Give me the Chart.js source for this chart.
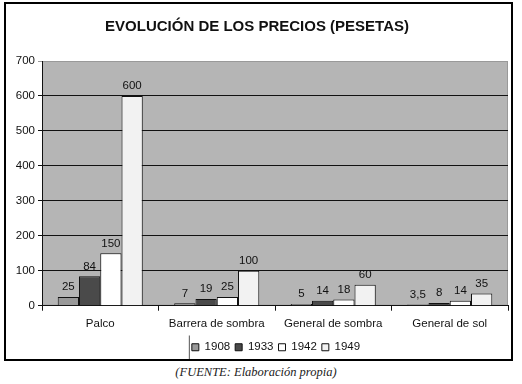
<!DOCTYPE html>
<html>
<head>
<meta charset="utf-8">
<script src="https://cdn.jsdelivr.net/npm/chart.js@4"></script>
<style>
  body { margin: 0; background: #fff; width: 522px; height: 384px; position: relative; overflow: hidden; }
  #box { position: absolute; left: 4px; top: 2px; width: 509px; height: 359px; border: 2px solid #000; box-sizing: border-box; }
  #box canvas { position: absolute; left: 0; top: 0; }
  #caption { position: absolute; left: 0; top: 365px; width: 512px; text-align: center;
    font: italic 12.5px "Liberation Serif", "DejaVu Serif", serif; color: #222; }
</style>
</head>
<body>
<div id="box"><canvas id="myChart" width="505" height="359"></canvas></div>
<div id="caption">(FUENTE: Elaboración propia)</div>
<script>
var categories = ["Palco", "Barrera de sombra", "General de sombra", "General de sol"],
  years = ["1908", "1933", "1942", "1949"],
  v1908 = [25, 7, 5, 3.5],
  v1933 = [84, 19, 14, 8],
  v1942 = [150, 25, 18, 14],
  v1949 = [600, 100, 60, 35],
  yTicks = [0, 100, 200, 300, 400, 500, 600, 700],
  colors = ["#999999", "#4a4a4a", "#ffffff", "#f2f2f2"];

var plotBg = {
  id: "plotBg",
  beforeDraw: function(chart) {
    var a = chart.chartArea, c = chart.ctx;
    c.save();
    c.fillStyle = "#b5b5b5";
    c.fillRect(a.left, a.top, a.right - a.left, a.bottom - a.top);
    c.strokeStyle = "#999";
    c.lineWidth = 1;
    c.strokeRect(a.left + 0.5, a.top + 0.5, a.right - a.left - 1, a.bottom - a.top - 1);
    c.restore();
  }
};

var valueLabels = {
  id: "valueLabels",
  afterDatasetsDraw: function(chart) {
    var c = chart.ctx;
    c.save();
    c.font = "11.5px 'Liberation Sans', Arial, sans-serif";
    c.fillStyle = "#111";
    c.textAlign = "center";
    c.textBaseline = "bottom";
    chart.data.datasets.forEach(function(ds, i) {
      chart.getDatasetMeta(i).data.forEach(function(bar, j) {
        c.fillText(String(ds.data[j]).replace(".", ","), bar.x, bar.y - 4);
      });
    });
    c.restore();
  }
};

// legend sits a bit right of centre, with a vertical rule at its left
var legendLine = {
  id: "legendLine",
  afterLayout: function(chart) {
    var l = chart.legend;
    l.left += 19; l.right += 19;
  },
  afterDraw: function(chart) {
    var l = chart.legend, c = chart.ctx;
    if (!l.legendHitBoxes.length) return;
    var h = l.legendHitBoxes[0];
    var x = h.left - 3;
    c.save();
    c.strokeStyle = "#555";
    c.beginPath();
    c.moveTo(x + 0.5, h.top - 6);
    c.lineTo(x + 0.5, h.top + h.height + 6);
    c.stroke();
    c.restore();
  }
};

var ctx = document.getElementById("myChart");
var allData = [v1908, v1933, v1942, v1949];

var config = {
  type: "bar",
  data: {
    labels: categories,
    datasets: years.map(function(y, i) {
      return {
        label: y,
        data: allData[i],
        backgroundColor: colors[i],
        borderColor: "#111",
        borderWidth: 1,
        barPercentage: 1,
        categoryPercentage: 0.73
      };
    })
  },
  options: {
    responsive: false,
    animation: false,
    layout: { padding: { left: 0, right: 3, top: 0, bottom: 0 } },
    plugins: {
      title: {
        display: true,
        text: "EVOLUCIÓN DE LOS PRECIOS (PESETAS)",
        color: "#111",
        font: { family: "'Liberation Sans', Arial, sans-serif", size: 15, weight: "bold" },
        padding: { top: 14, bottom: 25 }
      },
      legend: {
        position: "bottom",
        labels: {
          boxWidth: 7,
          boxHeight: 7,
          padding: 5,
          color: "#111",
          font: { family: "'Liberation Sans', Arial, sans-serif", size: 11.5 }
        }
      },
      tooltip: { enabled: false }
    },
    scales: {
      x: {
        grid: { drawOnChartArea: false, color: "#111", tickLength: 5 },
        border: { color: "#111" },
        ticks: { color: "#111", padding: 6, font: { family: "'Liberation Sans', Arial, sans-serif", size: 11.5 } }
      },
      y: {
        min: 0,
        max: 700,
        afterBuildTicks: function(s) { s.ticks = yTicks.map(function(v) { return { value: v }; }); },
        afterFit: function(s) { s.width = 36; },
        grid: {
          color: function(c) { return c.tick && c.tick.value === 700 ? "#999" : "#111"; },
          tickLength: 4
        },
        border: { color: "#111" },
        ticks: { color: "#111", padding: 3, font: { family: "'Liberation Sans', Arial, sans-serif", size: 11.5 } }
      }
    }
  },
  plugins: [plotBg, valueLabels, legendLine]
};

myChart = new Chart(ctx, config);
</script>
</body>
</html>
